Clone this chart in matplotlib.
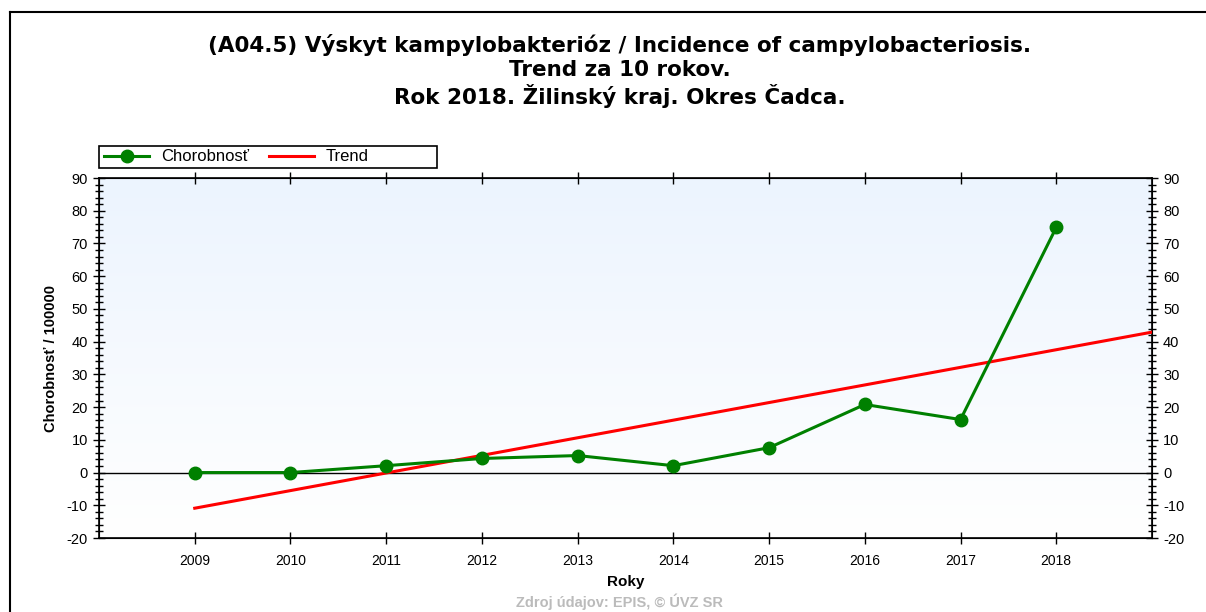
import numpy as np
import matplotlib
matplotlib.use('Agg')
import matplotlib.pyplot as plt
from matplotlib.lines import Line2D
from matplotlib.patches import Rectangle

plt.rcParams['font.family'] = ['Liberation Sans', 'DejaVu Sans']
plt.rcParams['axes.unicode_minus'] = False

years = [2009, 2010, 2011, 2012, 2013, 2014, 2015, 2016, 2017, 2018]
chorobnost = [0.0, 0.0, 2.1, 4.3, 5.2, 2.1, 7.6, 20.8, 16.2, 74.9]

# linear trend over the 10 years, drawn out to the right edge
slope, icpt = np.polyfit(years, chorobnost, 1)
trend_x = np.array([2009, 2019])
trend_y = slope * trend_x + icpt

fig = plt.figure(figsize=(12.06, 6.12), dpi=100)
ax = fig.add_axes([0.0821, 0.1209, 0.8731, 0.5882])

ax.set_xlim(2008, 2019)
ax.set_ylim(-20, 90)

# light blue -> white background
grad = np.linspace(1, 0, 256).reshape(-1, 1)
cmap = matplotlib.colors.LinearSegmentedColormap.from_list('bg', ['#ffffff', '#ecf4fe'])
ax.imshow(grad, extent=[2008, 2019, -20, 90], aspect='auto', cmap=cmap,
          origin='upper', zorder=0)

ax.axhline(0, color='black', lw=1, zorder=1)
l_trend, = ax.plot(trend_x, trend_y, color='#ff0000', lw=2.2, label='Trend', zorder=3)
l_chor, = ax.plot(years, chorobnost, color='#008000', lw=2.2, marker='o', ms=9,
                  label='Chorobnosť', zorder=4)

ax.set_xticks(years)
ax.set_xticklabels([str(y) for y in years], fontsize=10)
ax.set_yticks(range(-20, 91, 10))
ax.set_yticks(range(-20, 91, 2), minor=True)
ax.tick_params(axis='y', which='major', direction='inout', length=9, width=1, labelsize=10.5)
ax.tick_params(axis='y', which='minor', direction='inout', length=6, width=1)
ax.tick_params(axis='x', which='major', direction='inout', length=9, width=1, top=True, pad=7)
for s in ax.spines.values():
    s.set_linewidth(1.2)

ax2 = ax.twinx()
ax2.set_ylim(-20, 90)
ax2.set_yticks(range(-20, 91, 10))
ax2.set_yticks(range(-20, 91, 2), minor=True)
ax2.tick_params(axis='y', which='major', direction='inout', length=9, width=1, labelsize=10.5)
ax2.tick_params(axis='y', which='minor', direction='inout', length=6, width=1)

ax.set_ylabel("Chorobnosť / 100000", fontsize=10.5, fontweight='bold', labelpad=6)
ax.set_xlabel("Roky", fontsize=11, fontweight='bold', labelpad=5)

# legend box sits a little above the plot area, wider than its entries
ax.add_patch(Rectangle((0, 1.028), 0.321, 0.061, transform=ax.transAxes,
                       fill=True, facecolor='white', edgecolor='black', lw=1.2,
                       clip_on=False, zorder=5))
leg = ax.legend(handles=[l_chor, l_trend], loc='center left',
                bbox_to_anchor=(0.002, 1.0585), ncol=2, frameon=False,
                borderaxespad=0, fontsize=12, handlelength=2.7,
                handletextpad=0.7, columnspacing=1.2, borderpad=0.2)
leg.set_zorder(6)

fig.text(0.514, 0.884, "(A04.5) Výskyt kampylobakterióz / Incidence of campylobacteriosis.\n"
         "Trend za 10 rokov.\nRok 2018. Žilinský kraj. Okres Čadca.",
         ha='center', va='center', fontsize=15.5, fontweight='bold', linespacing=1.2,
         family=['DejaVu Sans'])
fig.text(0.514, 0.003, "Zdroj údajov: EPIS, © ÚVZ SR", ha='center', va='bottom',
         fontsize=10.5, color='#bbbbbb', fontweight='bold')

# outer frame of the exported image
fig.add_artist(Line2D([0.008, 1.0], [0.980, 0.980], color='black', lw=1.5))
fig.add_artist(Line2D([0.008, 0.008], [0.0, 0.980], color='black', lw=1.5))

fig.savefig('out.png', dpi=100)
